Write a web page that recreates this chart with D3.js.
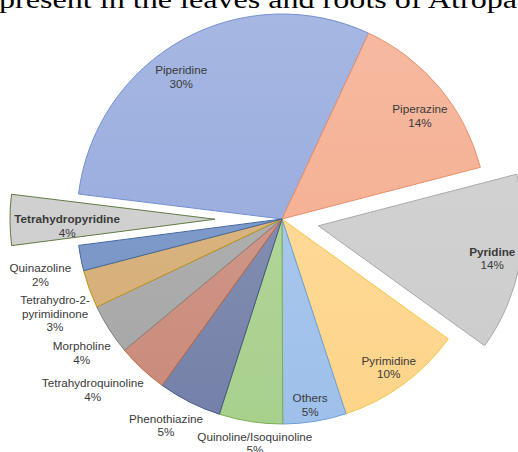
<!DOCTYPE html>
<html>
<head>
<meta charset="utf-8">
<script src="https://cdn.jsdelivr.net/npm/d3@7"></script>
<style>
  body { margin: 0; background: #fff; }
  svg { display: block; }
</style>
</head>
<body>
<div id="chart"></div>
<script>
// data, clockwise from the left of the top
const names = ["Piperidine", "Piperazine", "Pyridine", "Pyrimidine", "Others",
  "Quinoline/Isoquinoline", "Phenothiazine", "Tetrahydroquinoline", "Morpholine",
  "Tetrahydro-2-pyrimidinone", "Quinazoline", "Tetrahydropyridine"];
const values = [30, 14, 14, 10, 5, 5, 5, 4, 4, 3, 2, 4];
const labelLines = [["Piperidine"], ["Piperazine"], ["Pyridine"], ["Pyrimidine"], ["Others"],
  ["Quinoline/Isoquinoline"], ["Phenothiazine"], ["Tetrahydroquinoline"], ["Morpholine"],
  ["Tetrahydro-2-", "pyrimidinone"], ["Quinazoline"], ["Tetrahydropyridine"]];

const width = 518, height = 452;
const cx = 282, cy = 219, radius = 205;

const fills = {
  "Piperidine": "#90a5db", "Piperazine": "#f4a98a", "Pyridine": "#cbcbcb",
  "Pyrimidine": "#fed48a", "Others": "#9ec0ea", "Quinoline/Isoquinoline": "#a8d08d",
  "Phenothiazine": "#7480a8", "Tetrahydroquinoline": "#c98a7a", "Morpholine": "#a5a5a5",
  "Tetrahydro-2-pyrimidinone": "#d4ab72", "Quinazoline": "#6f8fc4", "Tetrahydropyridine": "#cbcbcb"
};
const strokes = {
  "Piperidine": "#7290d2", "Piperazine": "#eb9068", "Pyridine": "#a9a9a9",
  "Pyrimidine": "#f6c544", "Others": "#6aa0da", "Quinoline/Isoquinoline": "#78b050",
  "Phenothiazine": "#45558a", "Tetrahydroquinoline": "#c46a3c", "Morpholine": "#808080",
  "Tetrahydro-2-pyrimidinone": "#c09418", "Quinazoline": "#44689f", "Tetrahydropyridine": "#5f7d45"
};
const explode = { "Pyridine": 37, "Tetrahydropyridine": 67 };
const boldLabels = ["Pyridine", "Tetrahydropyridine"];
// label placement: [angle deg clockwise from north, distance from slice centre]
const labelPolar = {
  "Piperidine": [324.6, 174], "Piperazine": [53.3, 172], "Pyridine": [100.7, 177],
  "Pyrimidine": [144.3, 183], "Others": [171.4, 188], "Quinoline/Isoquinoline": [186.9, 226],
  "Phenothiazine": [209.3, 237], "Tetrahydroquinoline": [227.9, 255], "Morpholine": [236.2, 241],
  "Tetrahydro-2-pyrimidinone": [247.3, 246], "Quinazoline": [257.0, 248], "Tetrahydropyridine": [267.3, 148]
};

const data = names.map((n, i) => ({ name: n, value: values[i], lines: labelLines[i] }));

const svg = d3.select("#chart").append("svg")
  .attr("width", width)
  .attr("height", height);

// soft top-to-bottom gradient like the office chart fill
const defs = svg.append("defs");
names.forEach((n, i) => {
  const grad = defs.append("linearGradient")
    .attr("id", "grad" + i)
    .attr("gradientUnits", "userSpaceOnUse")
    .attr("x1", 0).attr("y1", -radius)
    .attr("x2", 0).attr("y2", radius);
  grad.append("stop").attr("offset", 0)
    .attr("stop-color", d3.interpolateRgb(fills[n], "#ffffff")(0.2));
  grad.append("stop").attr("offset", 1).attr("stop-color", fills[n]);
});

// cropped caption line from the page above the figure
svg.append("text")
  .attr("x", -1)
  .attr("y", 8)
  .attr("font-family", "Liberation Serif, Times New Roman, serif")
  .attr("font-size", 26)
  .attr("fill", "#000")
  .attr("textLength", 518)
  .attr("lengthAdjust", "spacingAndGlyphs")
  .text("present in the leaves and roots of Atropa");

const pie = d3.pie()
  .sort(null)
  .value(d => d.value)
  .startAngle(-83 * Math.PI / 180)
  .endAngle((360 - 83) * Math.PI / 180);

const arc = d3.arc().innerRadius(0).outerRadius(radius);
const arcs = pie(data);

function offsetOf(d) {
  const e = explode[d.data.name] || 0;
  const mid = (d.startAngle + d.endAngle) / 2;
  return [e * Math.sin(mid), -e * Math.cos(mid)];
}

const g = svg.append("g").attr("transform", `translate(${cx},${cy})`);

g.selectAll("path")
  .data(arcs)
  .enter()
  .append("path")
  .attr("d", arc)
  .attr("transform", d => `translate(${offsetOf(d)})`)
  .attr("fill", d => `url(#grad${d.index})`)
  .attr("stroke", d => strokes[d.data.name])
  .attr("stroke-width", 1)
  .attr("stroke-linejoin", "round");

const labels = g.selectAll("text.lbl")
  .data(arcs)
  .enter()
  .append("text")
  .attr("class", "lbl")
  .attr("text-anchor", "middle")
  .attr("font-family", "Liberation Sans, Arial, sans-serif")
  .attr("font-size", 11.7)
  .attr("fill", "#3a3a3a")
  .attr("font-weight", d => boldLabels.includes(d.data.name) ? "bold" : "normal")
  .attr("transform", d => {
    const o = offsetOf(d);
    const p = labelPolar[d.data.name];
    const a = p[0] * Math.PI / 180;
    return `translate(${o[0] + p[1] * Math.sin(a)},${o[1] - p[1] * Math.cos(a)})`;
  });

labels.each(function(d) {
  const lines = d.data.lines.concat([d.data.value + "%"]);
  const n = lines.length;
  const t = d3.select(this);
  lines.forEach((l, i) => {
    t.append("tspan")
      .attr("x", 0)
      .attr("y", (i - (n - 1) / 2) * 13.5 + 4)
      .attr("font-weight", i === n - 1 ? "normal" : null)
      .text(l);
  });
});
</script>
</body>
</html>
